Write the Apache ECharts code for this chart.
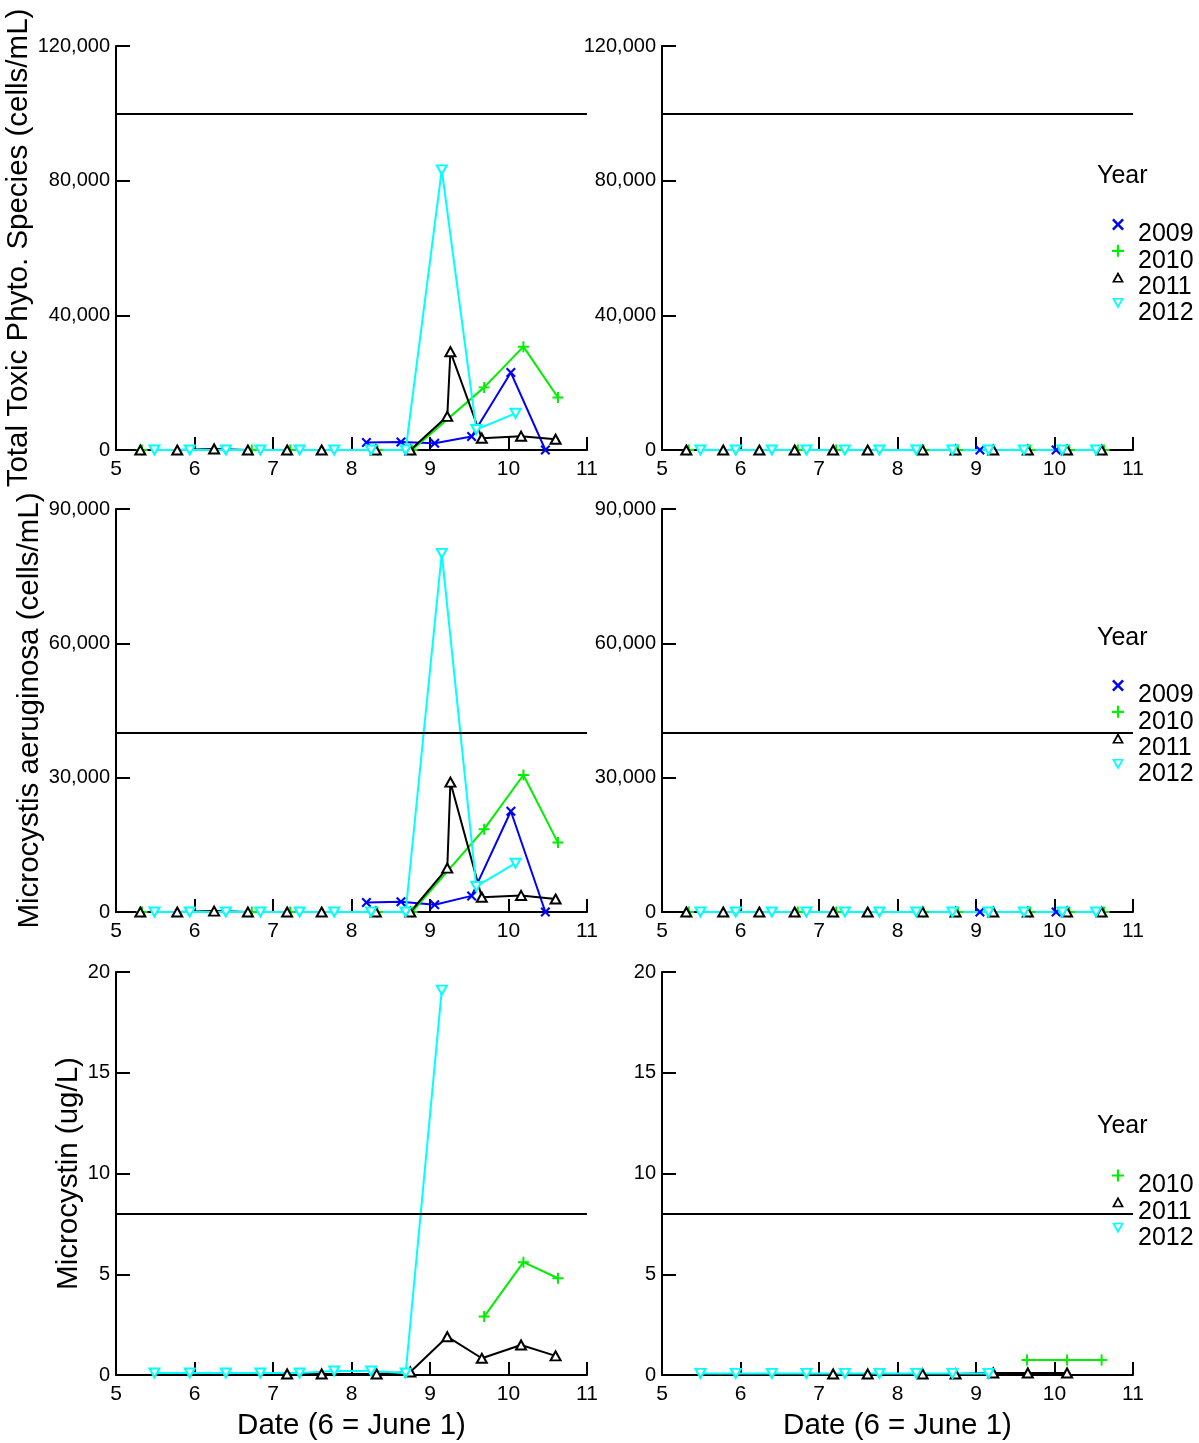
<!DOCTYPE html>
<html><head><meta charset="utf-8">
<script src="https://cdn.jsdelivr.net/npm/echarts@6/dist/echarts.min.js"></script>
<style>html,body{margin:0;padding:0;background:#fff}#c{width:1199px;height:1443px}</style>
</head><body><div id="c"></div>
<script>
// ---------- data (x = date, 6 = June 1) ----------
const years = ['2009', '2010', '2011', '2012'];
const xTicks = [5, 6, 7, 8, 9, 10, 11];

// Left column
const datesA2009 = [8.19, 8.63, 9.06, 9.53, 10.03, 10.47];
const toxicA2009 = [2200, 2400, 2000, 4000, 23000, 0];
const microA2009 = [2100, 2300, 1600, 3600, 22500, 0];

const datesA2010 = [5.33, 6.73, 7.22, 8.33, 8.77, 9.69, 10.19, 10.63];
const toxicA2010 = [0, 0, 0, 0, 0, 18600, 30700, 15600];
const microA2010 = [0, 0, 0, 0, 0, 18500, 30600, 15500];

const datesA2011 = [5.31, 5.78, 6.25, 6.68, 7.18, 7.62, 8.31, 8.75, 9.22, 9.26, 9.66, 10.16, 10.60];
const toxicA2011 = [0, 0, 300, 0, 0, 0, 0, 0, 10000, 29200, 3500, 4100, 3200];
const microA2011 = [0, 0, 200, 0, 0, 0, 0, 0, 9800, 29000, 3300, 3700, 2900];

const datesA2012 = [5.49, 5.94, 6.40, 6.84, 7.34, 7.78, 8.25, 8.69, 9.15, 9.59, 10.09];
const toxicA2012 = [0, 0, 0, 0, 0, 0, 0, 0, 83200, 6100, 10900];
const microA2012 = [0, 0, 0, 0, 0, 0, 0, 0, 80100, 5700, 10900];

const mcDatesA2010 = [9.69, 10.19, 10.63];
const mcA2010 = [2.9, 5.6, 4.8];
const mcDatesA2011 = [7.18, 7.62, 8.32, 8.75, 9.22, 9.66, 10.16, 10.60];
const mcA2011 = [0.05, 0.05, 0.05, 0.15, 1.9, 0.83, 1.49, 0.95];
const mcDatesA2012 = [5.49, 5.94, 6.40, 6.84, 7.34, 7.78, 8.25, 8.69, 9.15];
const mcA2012 = [0.1, 0.1, 0.1, 0.1, 0.1, 0.2, 0.2, 0.1, 19.1];

// Right column
const datesB2009 = [9.05, 10.02];
const toxicB2009 = [0, 0];
const microB2009 = [0, 0];
const datesB2010 = [5.34, 6.73, 7.22, 8.33, 8.77, 9.69, 10.19, 10.63];
const toxicB2010 = [0, 0, 0, 0, 0, 0, 0, 0];
const microB2010 = [0, 0, 0, 0, 0, 0, 0, 0];
const datesB2011 = [5.31, 5.78, 6.24, 6.69, 7.18, 7.62, 8.32, 8.74, 9.22, 9.66, 10.16, 10.60];
const toxicB2011 = [0, 0, 0, 0, 0, 0, 0, 0, 0, 0, 0, 0];
const microB2011 = [0, 0, 0, 0, 0, 0, 0, 0, 0, 0, 0, 0];
const datesB2012 = [5.49, 5.94, 6.40, 6.84, 7.33, 7.77, 8.24, 8.70, 9.16, 9.61, 10.10, 10.53];
const toxicB2012 = [0, 0, 0, 0, 0, 0, 0, 0, 0, 0, 0, 0];
const microB2012 = [0, 0, 0, 0, 0, 0, 0, 0, 0, 0, 0, 0];

const mcDatesB2010 = [9.65, 10.16, 10.60];
const mcB2010 = [0.75, 0.75, 0.75];
const mcDatesB2011 = [7.18, 7.62, 8.32, 8.74, 9.22, 9.66, 10.16];
const mcB2011 = [0.05, 0.05, 0.05, 0.05, 0.1, 0.1, 0.1];
const mcDatesB2012 = [5.49, 5.94, 6.40, 6.84, 7.33, 7.77, 8.24, 8.70, 9.16];
const mcB2012 = [0.08, 0.08, 0.08, 0.08, 0.08, 0.08, 0.08, 0.08, 0.08];

// thresholds and y-axis scales
const thresholds = [100000, 40000, 8];
const yMax = [120000, 90000, 20];
const yStep = [40000, 30000, 5];
const yTitles = ['Total Toxic Phyto. Species (cells/mL)', 'Microcystis aeruginosa (cells/mL)', 'Microcystin (ug/L)'];
const xTitle = 'Date (6 = June 1)';

// ---------- styling ----------
const FONT = '"Liberation Sans", Arial, sans-serif';
const X_PATH = 'path://M0,1.5L1.5,0L5,3.5L8.5,0L10,1.5L6.5,5L10,8.5L8.5,10L5,6.5L1.5,10L0,8.5L3.5,5Z';
const PLUS_PATH = 'path://M4.1,0H5.9V4.1H10V5.9H5.9V10H4.1V5.9H0V4.1H4.1Z';
const UP_PATH = 'path://M5,0L10,9L0,9ZM5,3.1L2.4,7.7L7.6,7.7Z';
const DOWN_PATH = 'path://M0,0L10,0L5,9ZM2.4,1.3L5,5.9L7.6,1.3Z';
const style = {
  '2009': {color: '#0000ff', symbol: X_PATH, symbolSize: 10, rotate: 0, border: 0, icon: X_PATH},
  '2010': {color: '#00ee00', symbol: PLUS_PATH, symbolSize: 11, rotate: 0, border: 0, icon: PLUS_PATH},
  '2011': {color: '#000000', symbol: 'emptyTriangle', symbolSize: [10, 9], rotate: 0, border: 1.5, icon: UP_PATH},
  '2012': {color: '#00ffff', symbol: 'emptyTriangle', symbolSize: [10, 9], rotate: 180, border: 1.5, icon: DOWN_PATH}
};

const zip = (xs, ys) => xs.map((x, i) => [x, ys[i]]);

function mk(year, dates, vals, gi, thr) {
  const s = style[year];
  const o = {
    type: 'line', name: year, xAxisIndex: gi, yAxisIndex: gi,
    data: zip(dates, vals),
    symbol: s.symbol, symbolSize: s.symbolSize, symbolRotate: s.rotate,
    lineStyle: {color: s.color, width: 2},
    itemStyle: {color: s.color, borderColor: s.color, borderWidth: s.border},
    emphasis: {disabled: true},
    silent: true, animation: false, z: 3
  };
  if (thr !== undefined) {
    o.markLine = {
      silent: true, symbol: 'none', label: {show: false}, animation: false,
      lineStyle: {color: '#000', width: 2, type: 'solid'},
      data: [{yAxis: thr}]
    };
  }
  return o;
}

const rowTop = [46, 509, 972];
const rowH = [404, 403, 403];
const colLeft = [116, 662];
const nameGaps = [69, 59, 21];

const grids = [], xAxes = [], yAxes = [];
for (let r = 0; r < 3; r++) {
  for (let c = 0; c < 2; c++) {
    grids.push({left: colLeft[c], top: rowTop[r], width: 471, height: rowH[r], containLabel: false});
    xAxes.push({
      type: 'value', gridIndex: r * 2 + c, min: xTicks[0], max: xTicks[xTicks.length - 1], interval: 1,
      axisLine: {show: true, onZero: false, lineStyle: {color: '#000', width: 2}},
      axisTick: {show: true, inside: true, length: 13, lineStyle: {color: '#000', width: 2}},
      axisLabel: {color: '#000', fontSize: 21, fontFamily: FONT, margin: 9},
      splitLine: {show: false},
      name: r === 2 ? xTitle : '', nameLocation: 'middle', nameGap: 36,
      nameTextStyle: {color: '#000', fontSize: 29.5, fontFamily: FONT}
    });
    yAxes.push({
      type: 'value', gridIndex: r * 2 + c, min: 0, max: yMax[r], interval: yStep[r],
      axisLine: {show: true, lineStyle: {color: '#000', width: 2}},
      axisTick: {show: true, inside: true, length: 14, lineStyle: {color: '#000', width: 2}},
      axisLabel: {color: '#000', fontSize: 20, fontFamily: FONT, margin: 6},
      splitLine: {show: false},
      name: c === 0 ? yTitles[r] : '', nameLocation: 'middle', nameGap: nameGaps[r],
      nameTextStyle: {color: '#000', fontSize: 29.5, fontFamily: FONT}
    });
  }
}

const series = [
  // row 0
  mk('2009', datesA2009, toxicA2009, 0), mk('2010', datesA2010, toxicA2010, 0),
  mk('2011', datesA2011, toxicA2011, 0, thresholds[0]), mk('2012', datesA2012, toxicA2012, 0),
  mk('2009', datesB2009, toxicB2009, 1), mk('2010', datesB2010, toxicB2010, 1),
  mk('2011', datesB2011, toxicB2011, 1, thresholds[0]), mk('2012', datesB2012, toxicB2012, 1),
  // row 1
  mk('2009', datesA2009, microA2009, 2), mk('2010', datesA2010, microA2010, 2),
  mk('2011', datesA2011, microA2011, 2, thresholds[1]), mk('2012', datesA2012, microA2012, 2),
  mk('2009', datesB2009, microB2009, 3), mk('2010', datesB2010, microB2010, 3),
  mk('2011', datesB2011, microB2011, 3, thresholds[1]), mk('2012', datesB2012, microB2012, 3),
  // row 2
  mk('2010', mcDatesA2010, mcA2010, 4), mk('2011', mcDatesA2011, mcA2011, 4, thresholds[2]),
  mk('2012', mcDatesA2012, mcA2012, 4),
  mk('2010', mcDatesB2010, mcB2010, 5), mk('2011', mcDatesB2011, mcB2011, 5, thresholds[2]),
  mk('2012', mcDatesB2012, mcB2012, 5)
];

function legendFor(names, top) {
  return {
    orient: 'vertical', left: 1107, top: top, padding: 5, itemGap: -18.7,
    itemWidth: 12, itemHeight: 12, selectedMode: false,
    formatter: '{t|{name}}',
    textStyle: {
      color: '#000', fontSize: 25, fontFamily: FONT,
      rich: {t: {color: '#000', fontSize: 25, fontFamily: FONT, lineHeight: 26, padding: [20, 0, 0, 9]}}
    },
    data: names.map(n => ({name: n, icon: style[n].icon, itemStyle: {color: style[n].color, borderWidth: 0}}))
  };
}

const legendTops = [197, 658, 1148];
const yearTops = [164, 626, 1114];

const option = {
  animation: false,
  backgroundColor: '#fff',
  title: yearTops.map(t => ({text: 'Year', left: 1097, top: t, padding: 0,
    textStyle: {color: '#000', fontSize: 25, fontWeight: 'normal', fontFamily: FONT}})),
  legend: [legendFor(years, legendTops[0]), legendFor(years, legendTops[1]),
           legendFor(['2010', '2011', '2012'], legendTops[2])],
  grid: grids, xAxis: xAxes, yAxis: yAxes, series: series
};

const chart = echarts.init(document.getElementById('c'), null, {renderer: 'canvas'});
chart.setOption(option);
</script></body></html>
